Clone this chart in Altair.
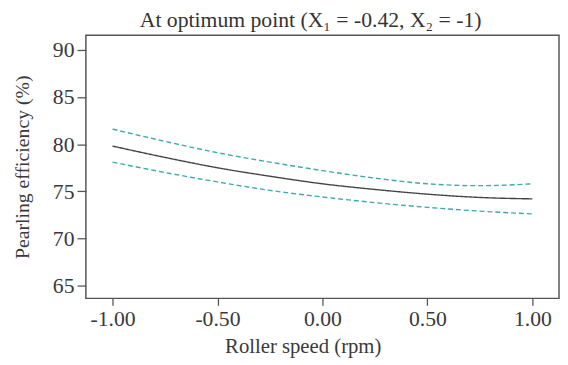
import altair as alt
import pandas as pd

# Data
roller_speed = [-1.00, -0.75, -0.50, -0.25, 0.00, 0.25, 0.50, 0.75, 1.00]
fitted = [79.8, 78.6, 77.5, 76.6, 75.8, 75.2, 74.7, 74.35, 74.2]
upper_ci = [81.6, 80.3, 79.1, 78.1, 77.2, 76.4, 75.8, 75.6, 75.8]
lower_ci = [78.1, 77.0, 76.0, 75.1, 74.4, 73.8, 73.3, 72.9, 72.6]

x_ticks = [-1.0, -0.5, 0.0, 0.5, 1.0]
y_ticks = [65, 70, 75, 80, 85, 90]

subtitle = "At optimum point (X\u2081 = -0.42, X\u2082 = -1)"
x_title = "Roller speed (rpm)"
y_title = "Pearling efficiency (%)"

rows = []
for name, vals in [("fit", fitted), ("upper", upper_ci), ("lower", lower_ci)]:
    for xv, yv in zip(roller_speed, vals):
        rows.append({"x": xv, "y": yv, "series": name})
df = pd.DataFrame(rows)

FONT = "Liberation Serif"

xscale = alt.Scale(domain=[-1.127, 1.127], nice=False, zero=False)
yscale = alt.Scale(domain=[63.64, 91.57], nice=False, zero=False)

xaxis = alt.Axis(values=x_ticks, format=".2f",
                 labelExpr="replace(datum.label, '\u2212', '-')",
                 title=x_title, domain=False,
                 grid=False, tickSize=7, tickColor="#555", tickWidth=1.3,
                 labelFont=FONT, labelFontSize=22, labelColor="#3a3a3a", labelPadding=4,
                 titleFont=FONT, titleFontSize=21, titleFontWeight="normal",
                 titleColor="#3a3a3a", titlePadding=6, titleX=220, titleAlign="center")
yaxis = alt.Axis(values=y_ticks, title=y_title, domain=False, grid=False,
                 tickSize=9, tickColor="#555", tickWidth=1.3,
                 labelFont=FONT, labelFontSize=22, labelColor="#3a3a3a", labelPadding=3,
                 titleFont=FONT, titleFontSize=20, titleFontWeight="normal",
                 titleColor="#3a3a3a", titlePadding=20)

lines = alt.Chart(df).mark_line(interpolate="monotone").encode(
    x=alt.X("x:Q", scale=xscale, axis=xaxis),
    y=alt.Y("y:Q", scale=yscale, axis=yaxis),
    color=alt.Color("series:N", scale=alt.Scale(domain=["fit", "upper", "lower"],
                    range=["#444444", "#3fa9ab", "#3fa9ab"]), legend=None),
    strokeDash=alt.StrokeDash("series:N", scale=alt.Scale(domain=["fit", "upper", "lower"],
                    range=[[1, 0], [5, 3], [5, 3]]), legend=None),
    strokeWidth=alt.value(1.4),
    detail="series:N",
)

sub = alt.Chart(pd.DataFrame({"t": [subtitle]})).mark_text(
    font=FONT, fontSize=22, color="#333", align="center", baseline="alphabetic"
).encode(text="t:N", x=alt.value(228), y=alt.value(-8))

chart = alt.layer(lines, sub).properties(
    width=480, height=267,
    autosize=alt.AutoSizeParams(type="none"),
    padding={"left": 79, "top": 25, "right": 1, "bottom": 65},
).configure_view(stroke="#555", strokeWidth=1.5)

chart.save("out.html", embed_options={"renderer": "svg", "actions": False})
